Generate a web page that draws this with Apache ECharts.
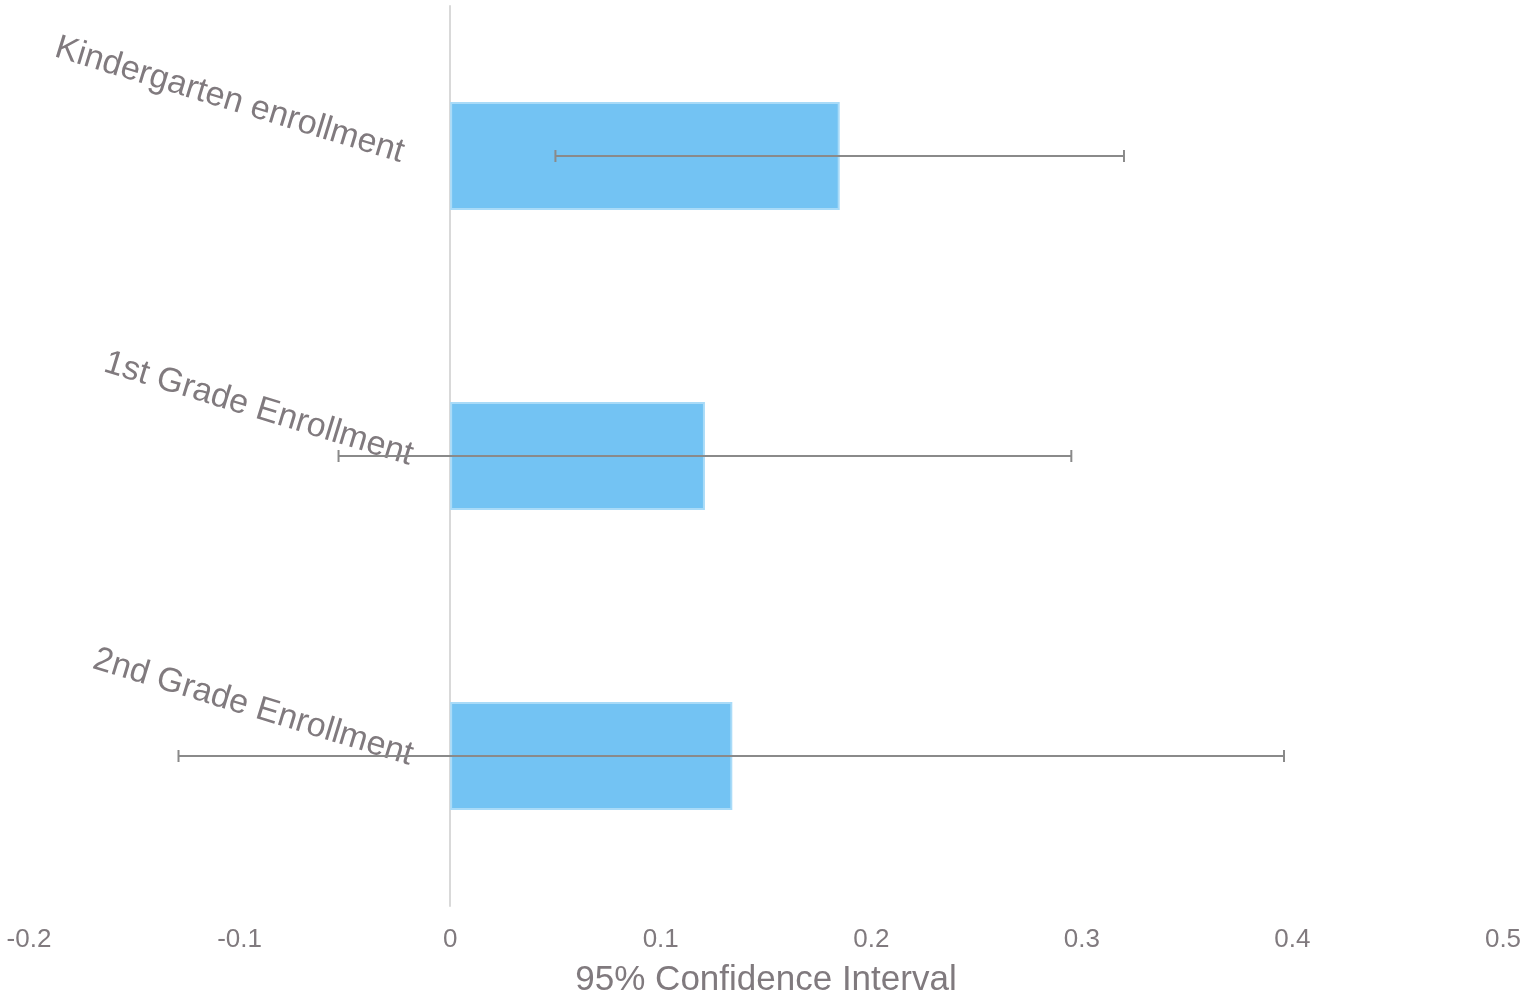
<!DOCTYPE html>
<html>
<head>
<meta charset="utf-8">
<script src="https://cdn.jsdelivr.net/npm/echarts@6/dist/echarts.min.js"></script>
<style>
html,body{margin:0;padding:0;background:#fff;}
#chart{width:1537px;height:1002px;}
</style>
</head>
<body>
<div id="chart"></div>
<script>
var categories = ['Kindergarten enrollment ', '1st Grade Enrollment', '2nd Grade Enrollment'];
var estimates = [0.185, 0.121, 0.134];
var ciLow = [0.050, -0.053, -0.129];
var ciHigh = [0.320, 0.295, 0.396];
var xTicks = [-0.2, -0.1, 0, 0.1, 0.2, 0.3, 0.4, 0.5];
var axisTitle = '95% Confidence Interval';

var textColor = '#807a7e';
var errData = categories.map(function (c, i) { return [i, ciLow[i], ciHigh[i]]; });

var gridLeft = 29, gridRight = 34;
var plotW = 1537 - gridLeft - gridRight;
// pixel offset so the category axis sits at x = 0
var zeroOffset = -plotW * (0 - xTicks[0]) / (xTicks[xTicks.length - 1] - xTicks[0]);

var chart = echarts.init(document.getElementById('chart'), null, {renderer: 'canvas'});
chart.setOption({
  animation: false,
  backgroundColor: '#ffffff',
  grid: {left: gridLeft, right: gridRight, top: 6, bottom: 96, containLabel: false, outerBoundsMode: 'none'},
  xAxis: {
    type: 'value',
    min: xTicks[0],
    max: xTicks[xTicks.length - 1],
    interval: 0.1,
    name: axisTitle,
    nameLocation: 'middle',
    nameGap: 57,
    nameTextStyle: {color: textColor, fontSize: 35, fontFamily: 'Liberation Sans, Arial, sans-serif'},
    axisLine: {show: false},
    axisTick: {show: false},
    splitLine: {show: false},
    axisLabel: {
      color: textColor, fontSize: 26, margin: 21,
      fontFamily: 'Liberation Sans, Arial, sans-serif',
      formatter: function (v) { return String(Math.round(v * 10) / 10); }
    }
  },
  yAxis: {
    type: 'category',
    data: categories,
    inverse: true,
    position: 'left',
    offset: zeroOffset,
    axisLine: {show: true, onZero: false, lineStyle: {color: '#d9d9d9', width: 2}},
    axisTick: {show: false},
    splitLine: {show: false},
    axisLabel: {
      show: true,
      color: textColor, fontSize: 34, rotate: -17, margin: 38,
      hideOverlap: false,
      fontFamily: 'Liberation Sans, Arial, sans-serif'
    }
  },
  series: [
    {
      type: 'bar',
      data: estimates,
      barWidth: '36%',
      itemStyle: {color: '#73c3f3', borderColor: '#a9dbf8', borderWidth: 2},
      z: 2
    },
    {
      type: 'custom',
      data: errData,
      encode: {x: [1, 2], y: 0},
      z: 3,
      renderItem: function (params, api) {
        var yi = api.value(0);
        var lo = api.coord([api.value(1), yi]);
        var hi = api.coord([api.value(2), yi]);
        var h = 6;
        var style = {stroke: '#8a8a8a', lineWidth: 2};
        return {
          type: 'group',
          children: [
            {type: 'line', shape: {x1: lo[0], y1: lo[1], x2: hi[0], y2: hi[1]}, style: style},
            {type: 'line', shape: {x1: lo[0], y1: lo[1] - h, x2: lo[0], y2: lo[1] + h}, style: style},
            {type: 'line', shape: {x1: hi[0], y1: hi[1] - h, x2: hi[0], y2: hi[1] + h}, style: style}
          ]
        };
      }
    }
  ]
});
</script>
</body>
</html>
